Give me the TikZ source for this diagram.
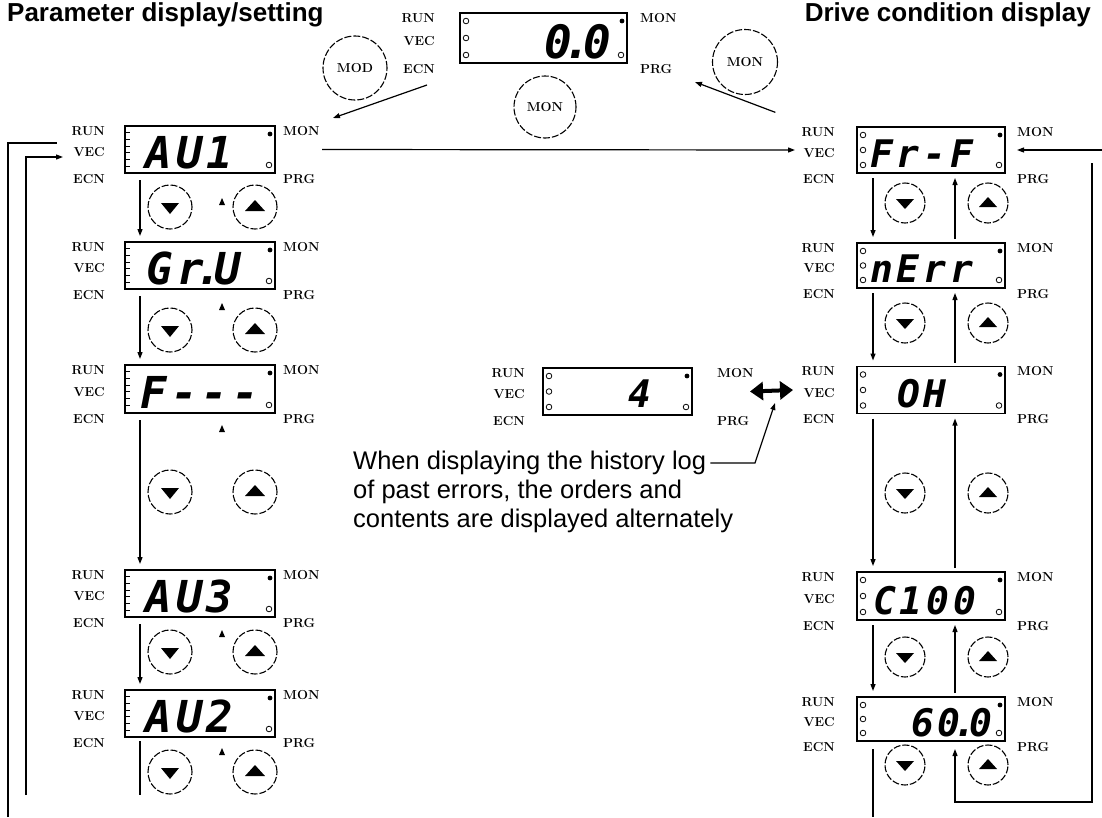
\documentclass[tikz,border=0pt]{standalone}
\usepackage{fontspec}
\usepackage{tikz}
\usetikzlibrary{arrows.meta}
\newfontfamily\arialfont{Liberation Sans}
\newfontfamily\segfont[LetterSpace=10]{DejaVu Sans Mono}

\begin{document}
\begin{tikzpicture}[x=1pt, y=-1pt,
    lcd/.style={draw, line width=1.6pt, inner sep=0pt, outer sep=0pt},
    lbl/.style={font=\bfseries\fontsize{13}{13}\selectfont, inner sep=0pt},
    seg/.style={font=\segfont\bfseries\itshape\fontsize{#1}{#1}\selectfont, inner sep=0pt},
    seg/.default=40,
    keyc/.style={circle, draw, line width=1.1pt, dash pattern=on 7pt off 2pt, inner sep=0pt},
    note/.style={font=\arialfont\fontsize{25.5}{29}\selectfont, inner sep=0pt},
    title/.style={font=\arialfont\bfseries\fontsize{26}{26}\selectfont, inner sep=0pt},
    arr/.style={line width=1.2pt, -{Triangle[length=7pt,width=5pt]}},
    ln/.style={line width=1.2pt}]
    \useasboundingbox (0,0) rectangle (1102,817);

    % Titles
    \node[title, anchor=base west] (ttlL) at (7,21) {Parameter display/setting};
    \node[title, anchor=base east] (ttlR) at (1091,21) {Drive condition display};

    % Displays: name/centre x/centre y/width/height
    \foreach \n/\cx/\cy/\bw/\bh in {top/543.5/38/167/50, au1/200/149.5/150/47, gru/200/265.5/150/47,
        fdash/200/389/150/48, au3/200/593.5/150/47, au2/200/713.5/150/47,
        frf/931/150/148/46, nerr/931/265.5/148/45, oh/931/390/148/47,
        c100/931/596/148/48, sixty/931/719/148/44, hist/617.5/391.5/149/47}
        \node[lcd, minimum width=\bw, minimum height=\bh] (\n) at (\cx,\cy) {};

    % Lamp labels: name/left gap/right gap
    \foreach \n/\lg/\rg in {top/25/13, au1/20/8, gru/20/8, fdash/20/8, au3/20/8, au2/20/8,
        frf/22/12, nerr/22/12, oh/22/12, c100/22/12, sixty/22/12, hist/18/25} {
        \node[lbl, anchor=east] (\n-run) at ([xshift=-\lg, yshift=-5]\n.north west) {RUN};
        \node[lbl, anchor=east] (\n-vec) at ([xshift=-\lg, yshift=-3]\n.west) {VEC};
        \node[lbl, anchor=east] (\n-ecn) at ([xshift=-\lg, yshift=-6]\n.south west) {ECN};
        \node[lbl, anchor=west] (\n-mon) at ([xshift=\rg, yshift=-5]\n.north east) {MON};
        \node[lbl, anchor=west] (\n-prg) at ([xshift=\rg, yshift=-6]\n.south east) {PRG};
        % status dots on the right
        \fill ([xshift=-5, yshift=-8]\n.north east) circle (2.4);
        \draw[line width=0.8pt] ([xshift=-6, yshift=8]\n.south east) circle (2.8);
    }

    % Lamps on the left edge
    \foreach \n in {top, frf, nerr, oh, c100, sixty, hist} {
        \draw[line width=2.6pt] (\n.north west) -- (\n.south west);
        \draw[line width=0.8pt] ([xshift=6, yshift=-8]\n.north west) circle (2.8);
        \draw[line width=0.8pt] ([xshift=6]\n.west) circle (2.8);
        \draw[line width=0.8pt] ([xshift=6, yshift=8]\n.south west) circle (2.8);
    }
    \foreach \n in {au1, gru, fdash, au3, au2} {
        \draw[line width=2.6pt] (\n.north west) -- (\n.south west);
        \foreach \t in {1,...,6}
            \draw[line width=0.8pt] ([xshift=1, yshift=-\t*6.7]\n.north west) -- ++(4,0);
    }

    % Read-outs
    \node[seg=46, anchor=base east] (v-top) at ([xshift=-16, yshift=5]top.south east) {0\kern-.18em.\kern-.18em0};
    \node[seg=44, anchor=base west] (v-au1) at ([xshift=20, yshift=5]au1.south west) {AU1};
    \node[seg=44, anchor=base east] (v-gru) at ([xshift=-34, yshift=5]gru.south east) {Gr\kern-.18em.\kern-.18em U};
    \node[seg=44, anchor=base west] (v-fdash) at ([xshift=15, yshift=5]fdash.south west) {F---};
    \node[seg=44, anchor=base west] (v-au3) at ([xshift=20, yshift=5]au3.south west) {AU3};
    \node[seg=44, anchor=base west] (v-au2) at ([xshift=20, yshift=5]au2.south west) {AU2};
    \node[seg=38, anchor=base west] (v-frf) at ([xshift=13, yshift=6]frf.south west) {Fr-F};
    \node[seg=38, anchor=base west] (v-nerr) at ([xshift=13, yshift=6]nerr.south west) {nErr};
    \node[seg=38, anchor=base west] (v-oh) at ([xshift=40, yshift=6]oh.south west) {OH};
    \node[seg=38, anchor=base west] (v-c100) at ([xshift=16, yshift=6]c100.south west) {C100};
    \node[seg=38, anchor=base east] (v-sixty) at ([xshift=-12, yshift=5]sixty.south east) {60\kern-.18em.\kern-.18em0};
    \node[seg=38, anchor=base east] (v-hist) at ([xshift=-40, yshift=8]hist.south east) {4};

    % Keys at the top
    \node[keyc, lbl, minimum size=64] (modK) at (355,68) {MOD};
    \node[keyc, lbl, minimum size=62] (monB) at (545,107) {MON};
    \node[keyc, lbl, minimum size=65] (monR) at (745,62) {MON};

    % Arrow keys: row/left y/right y
    \foreach \i/\yl/\yr in {1/207/203, 2/330/323, 3/492/493, 4/652/657, 5/772/765} {
        \node[keyc, minimum size=44] (dnL\i) at (170,\yl) {};
        \node[keyc, minimum size=44] (upL\i) at (255,\yl) {};
        \node[keyc, minimum size=40] (dnR\i) at (905,\yr) {};
        \node[keyc, minimum size=40] (upR\i) at (988,\yr) {};
        \fill (dnL\i) ++(-9,-4) -- ++(18,0) -- ++(-9,11) -- cycle;
        \fill (upL\i) ++(-10,4) -- ++(20,0) -- ++(-10,-11) -- cycle;
        \fill (dnR\i) ++(-9,-4) -- ++(18,0) -- ++(-9,10) -- cycle;
        \fill (upR\i) ++(-9,4) -- ++(18,0) -- ++(-9,-10) -- cycle;
    }

    % Small marks under the left displays
    \foreach \n/\dd in {au1/25, gru/14, fdash/12, au3/13, au2/11}
        \fill ([xshift=97, yshift=-\dd]\n.south west) -- ++(-3,7) -- ++(6,0) -- cycle;

    % Mode change arrows
    \draw[arr] ([xshift=-33, yshift=-22]top.south west) -- ([xshift=58, yshift=8]au1.north east);
    \draw[arr] ([xshift=7, yshift=-27]monR.south east) -- ([xshift=68, yshift=-19]top.south east);
    \draw[arr] ([xshift=47]au1.east) -- ([xshift=-62]frf.west);

    % Left column
    \foreach \src/\dst in {au1/gru, gru/fdash, fdash/au3, au3/au2}
        \draw[arr] ([xshift=15, yshift=-7]\src.south west) -- ([xshift=15, yshift=6]\dst.north west);
    \coordinate (endL) at (140,795);
    \draw[ln] ([xshift=15, yshift=-4]au2.south west) -- (endL);

    % Right column
    \foreach \src/\dst in {frf/nerr, nerr/oh, oh/c100, c100/sixty} {
        \draw[arr] ([xshift=16, yshift=-5]\src.south west) -- ([xshift=16, yshift=6]\dst.north west);
        \draw[arr] ([xshift=98, yshift=4]\dst.north west) -- ([xshift=98, yshift=-5]\src.south west);
    }
    \coordinate (endR) at (873,817);
    \draw[ln] ([xshift=16, yshift=-8]sixty.south west) -- (endR);

    % Return lines
    \coordinate (retOut) at (8,817);
    \coordinate (retIn) at (26,795);
    \draw[ln] (retOut) |- ([xshift=-68, yshift=6.5]au1.west);
    \draw[arr] (retIn) |- ([xshift=-62, yshift=-7.5]au1.west);
    \coordinate (retR) at (1102,150);
    \draw[arr] (retR) -- ([xshift=12]frf.east);
    \coordinate (retTop) at (1092,163);
    \coordinate (retBot) at (1092,802);
    \draw[arr] (retTop) -- (retBot) -| ([xshift=98, yshift=-8]sixty.south west);

    % Error history
    \draw[line width=4pt, {Triangle[length=13pt,width=18pt]}-{Triangle[length=13pt,width=18pt]}]
        ([xshift=58]hist.east) -- ([xshift=-64]oh.west);
    \node[note, anchor=base west] (note1) at (353,469) {When displaying the history log};
    \node[note, anchor=base west] (note2) at (353,498) {of past errors, the orders and};
    \node[note, anchor=base west] (note3) at (353,527) {contents are displayed alternately};
    \coordinate (kink) at (755,463);
    \draw[arr] ([xshift=4, yshift=6]note1.base east) -- (kink) -- ([xshift=83, yshift=-11.5]hist.east);
\end{tikzpicture}
\end{document}
